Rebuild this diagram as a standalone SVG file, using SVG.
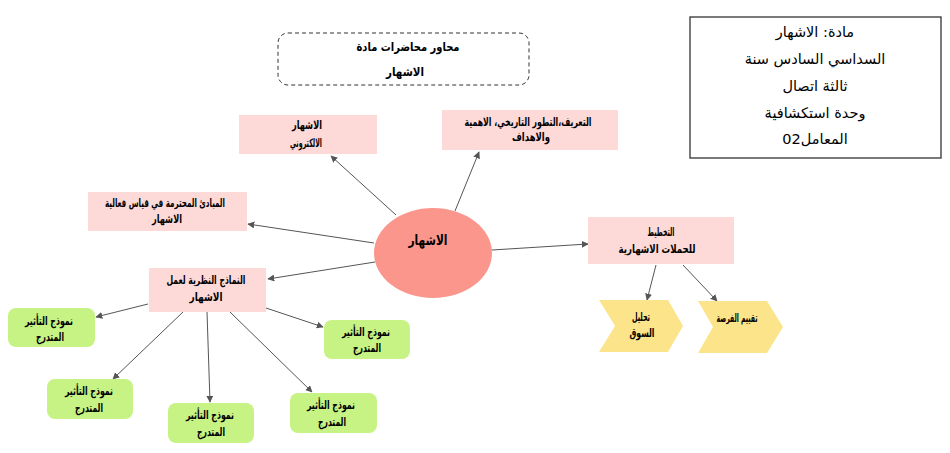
<svg xmlns="http://www.w3.org/2000/svg" width="950" height="453" viewBox="0 0 950 453">
<defs>
<marker id="ah" viewBox="0 0 10 10" refX="9" refY="5" markerWidth="7" markerHeight="7" orient="auto" markerUnits="userSpaceOnUse">
<path d="M0,0 L10,5 L0,10 z" fill="#555"/>
</marker>
<style>
text{font-family:"DejaVu Sans",sans-serif;fill:#000;text-anchor:middle;dominant-baseline:middle}
.t{font-size:11.5px;font-weight:bold}
.pink{fill:#fdd9d7}
.green{fill:#c6f383}
.yel{fill:#fbe48a}
.ln{stroke:#555;stroke-width:1;fill:none;marker-end:url(#ah)}
.info{font-size:14.5px}
</style>
</defs>
<rect width="950" height="453" fill="#fff"/>
<g id="connectors">
<line class="ln" x1="396" y1="215" x2="331" y2="156"/>
<line class="ln" x1="455" y1="211" x2="479" y2="152"/>
<line class="ln" x1="374" y1="243" x2="248" y2="224"/>
<line class="ln" x1="375" y1="262" x2="268" y2="279"/>
<line class="ln" x1="492" y1="250" x2="588" y2="244"/>
<line class="ln" x1="656" y1="265" x2="647" y2="300"/>
<line class="ln" x1="683" y1="265" x2="717" y2="301"/>
<line class="ln" x1="148" y1="304" x2="96" y2="317"/>
<line class="ln" x1="183" y1="312" x2="113" y2="379"/>
<line class="ln" x1="207" y1="312" x2="210" y2="402"/>
<line class="ln" x1="230" y1="312" x2="312" y2="392"/>
<line class="ln" x1="266" y1="308" x2="323" y2="327"/>
</g>
<g id="title">
<rect x="278" y="33" width="251" height="52" rx="10" fill="#fff" stroke="#333" stroke-dasharray="4,3"/>
<text class="t" x="408" y="47" style="font-size:12px" textLength="103" lengthAdjust="spacingAndGlyphs">محاور محاضرات مادة</text>
<text class="t" x="405" y="72" style="font-size:12px" textLength="38" lengthAdjust="spacingAndGlyphs">الاشهار</text>
</g>
<g id="info">
<rect x="690" y="17" width="251" height="141" fill="#fff" stroke="#333" stroke-width="1.3"/>
<text class="info" x="815" y="33">مادة: الاشهار</text>
<text class="info" x="815" y="60">السداسي السادس سنة</text>
<text class="info" x="815" y="87">ثالثة اتصال</text>
<text class="info" x="815" y="114">وحدة استكشافية</text>
<text class="info" x="815" y="140">المعامل02</text>
</g>
<g id="center">
<ellipse cx="433" cy="253" rx="59" ry="45" fill="#fb968d"/>
<text x="428" y="241" style="font-size:14px;font-weight:bold" textLength="39" lengthAdjust="spacingAndGlyphs">الاشهار</text>
</g>
<g id="n-electronic">
<rect class="pink" x="239" y="115" width="138" height="39"/>
<text class="t" x="307" y="125" textLength="30" lengthAdjust="spacingAndGlyphs">الاشهار</text>
<text class="t" x="306" y="143" textLength="32" lengthAdjust="spacingAndGlyphs">الالكتروني</text>
</g>
<g id="n-definition">
<rect class="pink" x="442" y="110" width="176" height="40"/>
<text class="t" x="528" y="122" textLength="127" lengthAdjust="spacingAndGlyphs">التعريف،التطور التاريخي، الاهمية</text>
<text class="t" x="531" y="137" textLength="38" lengthAdjust="spacingAndGlyphs">والاهداف</text>
</g>
<g id="n-principles">
<rect class="pink" x="88" y="192" width="159" height="39"/>
<text class="t" x="165" y="203" textLength="120" lengthAdjust="spacingAndGlyphs">المبادئ المحترمة في  قياس فعالية</text>
<text class="t" x="167" y="219" textLength="30" lengthAdjust="spacingAndGlyphs">الاشهار</text>
</g>
<g id="n-models">
<rect class="pink" x="149" y="268" width="117" height="44"/>
<text class="t" x="206" y="280" textLength="79" lengthAdjust="spacingAndGlyphs">النماذج النظرية لعمل</text>
<text class="t" x="206" y="297" textLength="33" lengthAdjust="spacingAndGlyphs">الاشهار</text>
</g>
<g id="n-planning">
<rect class="pink" x="588" y="217" width="146" height="47"/>
<text class="t" x="661" y="232" textLength="27" lengthAdjust="spacingAndGlyphs">التخطيط</text>
<text class="t" x="657" y="249" textLength="77" lengthAdjust="spacingAndGlyphs">للحملات   الاشهارية</text>
</g>
<g id="n-market">
<polygon class="yel" points="599,300 668,300 683,326 668,352 599,352 615,326"/>
<text class="t" x="641" y="317" textLength="18" lengthAdjust="spacingAndGlyphs">تحليل</text>
<text class="t" x="642" y="333" textLength="25" lengthAdjust="spacingAndGlyphs">السوق</text>
</g>
<g id="n-opportunity">
<polygon class="yel" points="698,301 767,301 783,327 767,353 698,353 713,327"/>
<text class="t" x="737" y="318" textLength="41" lengthAdjust="spacingAndGlyphs">تقييم الفرصة</text>
</g>
<g id="g1">
<rect class="green" x="8" y="308" width="87" height="39" rx="8"/>
<text class="t" x="49" y="321" textLength="48" lengthAdjust="spacingAndGlyphs">نموذج التأثير</text>
<text class="t" x="50" y="337" textLength="28" lengthAdjust="spacingAndGlyphs">المتدرج</text>
</g>
<g id="g2">
<rect class="green" x="47" y="379" width="86" height="40" rx="8"/>
<text class="t" x="89" y="391" textLength="48" lengthAdjust="spacingAndGlyphs">نموذج التأثير</text>
<text class="t" x="89" y="408" textLength="28" lengthAdjust="spacingAndGlyphs">المتدرج</text>
</g>
<g id="g3">
<rect class="green" x="168" y="403" width="86" height="40" rx="8"/>
<text class="t" x="210" y="415" textLength="48" lengthAdjust="spacingAndGlyphs">نموذج التأثير</text>
<text class="t" x="211" y="432" textLength="28" lengthAdjust="spacingAndGlyphs">المتدرج</text>
</g>
<g id="g4">
<rect class="green" x="290" y="393" width="87" height="40" rx="8"/>
<text class="t" x="331" y="405" textLength="48" lengthAdjust="spacingAndGlyphs">نموذج التأثير</text>
<text class="t" x="332" y="422" textLength="28" lengthAdjust="spacingAndGlyphs">المتدرج</text>
</g>
<g id="g5">
<rect class="green" x="324" y="320" width="86" height="39" rx="8"/>
<text class="t" x="366" y="332" textLength="48" lengthAdjust="spacingAndGlyphs">نموذج التأثير</text>
<text class="t" x="367" y="348" textLength="28" lengthAdjust="spacingAndGlyphs">المتدرج</text>
</g>
</svg>
